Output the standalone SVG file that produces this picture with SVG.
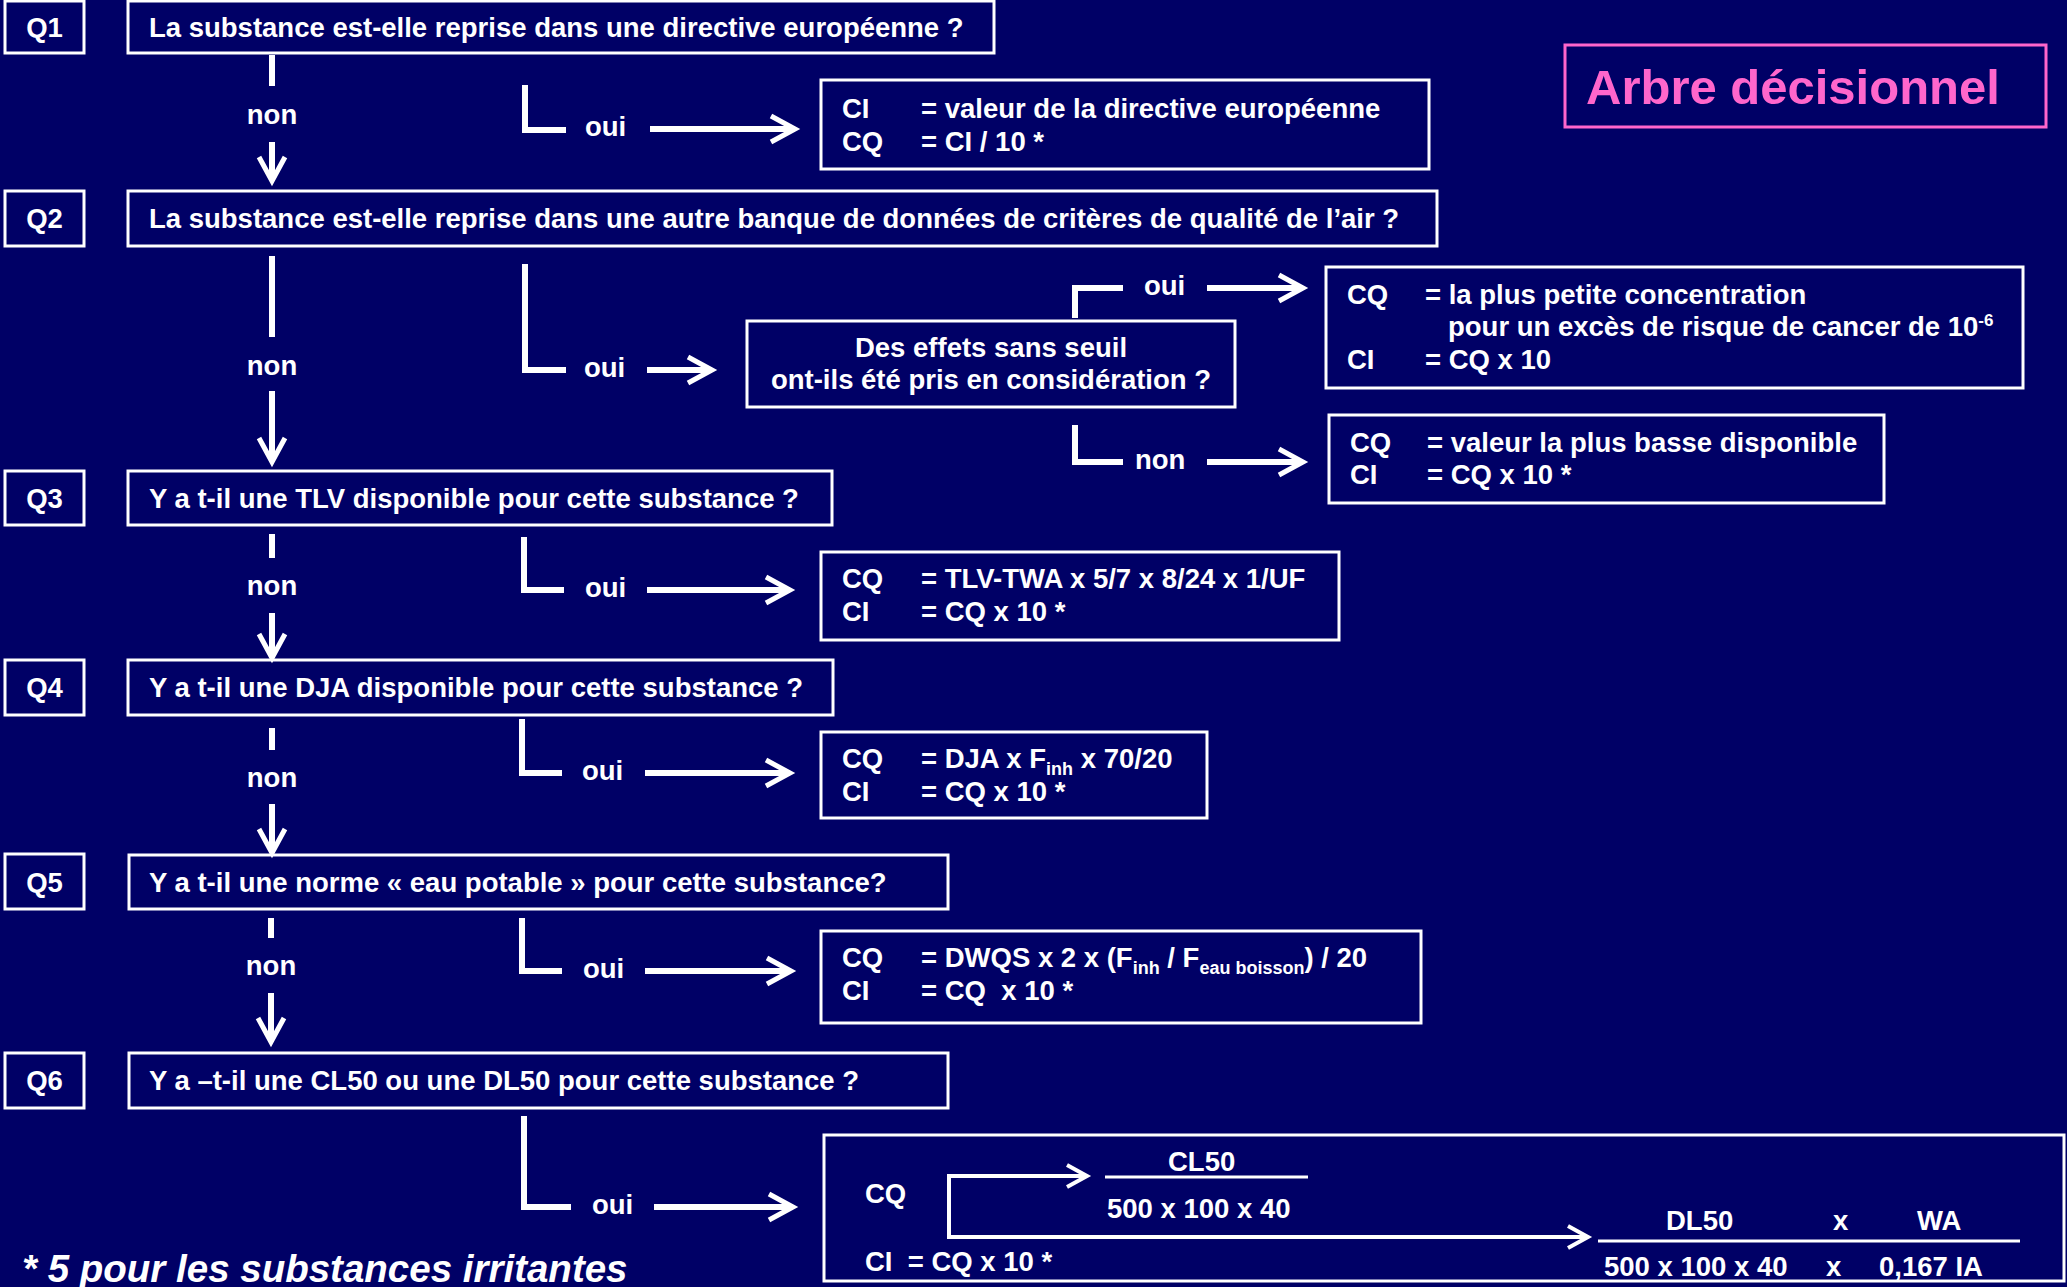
<svg xmlns="http://www.w3.org/2000/svg" width="2067" height="1287" viewBox="0 0 2067 1287">
<defs>
<style>
.bx{fill:none;stroke:#fff;stroke-width:3}
.t{font-family:"Liberation Sans",Arial,sans-serif;font-weight:bold;font-size:27.5px;fill:#fff;white-space:pre}
.m{text-anchor:middle}
.c{fill:none;stroke:#fff;stroke-width:6;stroke-linejoin:miter}
.a{marker-end:url(#chev)}
.c2{fill:none;stroke:#fff;stroke-width:4}
.a2{marker-end:url(#chev2)}
.fl{stroke:#fff;stroke-width:3}
</style>
<marker id="chev" markerUnits="userSpaceOnUse" viewBox="-30 -18 38 36" refX="0" refY="0" markerWidth="38" markerHeight="36" orient="auto">
<path d="M-24,-13 L0,0 L-24,13" fill="none" stroke="#fff" stroke-width="5"/>
</marker>
<marker id="chev2" markerUnits="userSpaceOnUse" viewBox="-26 -16 32 32" refX="0" refY="0" markerWidth="32" markerHeight="32" orient="auto">
<path d="M-20,-11 L0,0 L-20,11" fill="none" stroke="#fff" stroke-width="4"/>
</marker>
</defs>
<rect x="0" y="0" width="2067" height="1287" fill="#000066"/>

<g id="title">
<rect class="bx" x="1565" y="45" width="481" height="82" style="stroke:#FF66CC"/>
<text class="t" x="1586" y="104" style="font-size:49px;fill:#FF66CC">Arbre décisionnel</text>
</g>

<g id="q1-label"><rect class="bx" x="5" y="1" width="79" height="52"/><text class="t m" x="44.5" y="37">Q1</text></g>
<g id="q1"><rect class="bx" x="128" y="1" width="866" height="52"/><text class="t" x="149" y="37">La substance est-elle reprise dans une directive européenne ?</text></g>
<g id="r1"><rect class="bx" x="821" y="80" width="608" height="89"/><text class="t" x="842" y="118">CI</text><text class="t" x="921" y="118">= valeur de la directive européenne</text><text class="t" x="842" y="151">CQ</text><text class="t" x="921" y="151">= CI / 10 *</text></g>

<g id="q2-label"><rect class="bx" x="5" y="191" width="79" height="55"/><text class="t m" x="44.5" y="228">Q2</text></g>
<g id="q2"><rect class="bx" x="128" y="191" width="1309" height="55"/><text class="t" x="149" y="228">La substance est-elle reprise dans une autre banque de données de critères de qualité de l’air ?</text></g>
<g id="q2b"><rect class="bx" x="747" y="321" width="488" height="86"/><text class="t m" x="991" y="357">Des effets sans seuil</text><text class="t m" x="991" y="389">ont-ils été pris en considération ?</text></g>
<g id="r2a"><rect class="bx" x="1326" y="267" width="697" height="121"/><text class="t" x="1347" y="304">CQ</text><text class="t" x="1425" y="304">= la plus petite concentration</text><text class="t" x="1448" y="336">pour un excès de risque de cancer de 10<tspan dy="-10" style="font-size:17px">-6</tspan></text><text class="t" x="1347" y="369">CI</text><text class="t" x="1425" y="369">= CQ x 10</text></g>
<g id="r2b"><rect class="bx" x="1329" y="415" width="555" height="88"/><text class="t" x="1350" y="452">CQ</text><text class="t" x="1427" y="452">= valeur la plus basse disponible</text><text class="t" x="1350" y="484">CI</text><text class="t" x="1427" y="484">= CQ x 10 *</text></g>

<g id="q3-label"><rect class="bx" x="5" y="471" width="79" height="54"/><text class="t m" x="44.5" y="508">Q3</text></g>
<g id="q3"><rect class="bx" x="128" y="471" width="704" height="54"/><text class="t" x="149" y="508">Y a t-il une TLV disponible pour cette substance ?</text></g>
<g id="r3"><rect class="bx" x="821" y="552" width="518" height="88"/><text class="t" x="842" y="588">CQ</text><text class="t" x="921" y="588">= TLV-TWA x 5/7 x 8/24 x 1/UF</text><text class="t" x="842" y="621">CI</text><text class="t" x="921" y="621">= CQ x 10 *</text></g>

<g id="q4-label"><rect class="bx" x="5" y="660" width="79" height="55"/><text class="t m" x="44.5" y="697">Q4</text></g>
<g id="q4"><rect class="bx" x="128" y="660" width="705" height="55"/><text class="t" x="149" y="697">Y a t-il une DJA disponible pour cette substance ?</text></g>
<g id="r4"><rect class="bx" x="821" y="732" width="386" height="86"/><text class="t" x="842" y="768">CQ</text><text class="t" x="921" y="768">= DJA x F<tspan dy="7" style="font-size:18px">inh</tspan><tspan dy="-7"> x 70/20</tspan></text><text class="t" x="842" y="801">CI</text><text class="t" x="921" y="801">= CQ x 10 *</text></g>

<g id="q5-label"><rect class="bx" x="5" y="854" width="79" height="55"/><text class="t m" x="44.5" y="892">Q5</text></g>
<g id="q5"><rect class="bx" x="129" y="855" width="819" height="54"/><text class="t" x="149" y="892">Y a t-il une norme « eau potable » pour cette substance?</text></g>
<g id="r5"><rect class="bx" x="821" y="931" width="600" height="92"/><text class="t" x="842" y="967">CQ</text><text class="t" x="921" y="967">= DWQS x 2 x (F<tspan dy="7" style="font-size:18px">inh</tspan><tspan dy="-7"> / F</tspan><tspan dy="7" style="font-size:18px">eau boisson</tspan><tspan dy="-7">) / 20</tspan></text><text class="t" x="842" y="1000">CI</text><text class="t" x="921" y="1000">= CQ  x 10 *</text></g>

<g id="q6-label"><rect class="bx" x="5" y="1053" width="79" height="55"/><text class="t m" x="44.5" y="1090">Q6</text></g>
<g id="q6"><rect class="bx" x="129" y="1053" width="819" height="55"/><text class="t" x="149" y="1090">Y a –t-il une CL50 ou une DL50 pour cette substance ?</text></g>
<g id="r6">
<rect class="bx" x="824" y="1135" width="1240" height="146"/>
<text class="t" x="865" y="1203">CQ</text>
<text class="t" x="1168" y="1171">CL50</text>
<line class="fl" x1="1105" y1="1177" x2="1308" y2="1177"/>
<text class="t" x="1107" y="1218">500 x 100 x 40</text>
<text class="t" x="1666" y="1230">DL50</text><text class="t" x="1833" y="1230">x</text><text class="t" x="1917" y="1230">WA</text>
<line class="fl" x1="1598" y1="1241" x2="2020" y2="1241"/>
<text class="t" x="1604" y="1276">500 x 100 x 40</text><text class="t" x="1826" y="1276">x</text><text class="t" x="1879" y="1276">0,167 IA</text>
<text class="t" x="865" y="1271">CI  = CQ x 10 *</text>
<path class="c2 a2" d="M949,1237 L949,1176 L1087,1176"/>
<path class="c2 a2" d="M949,1176 L949,1237 L1588,1237"/>
</g>

<g id="footnote"><text class="t" x="22" y="1282" style="font-size:38.5px;font-style:italic">* 5 pour les substances irritantes</text></g>

<g id="connectors">
<line class="c" x1="272" y1="55" x2="272" y2="86"/>
<text class="t m" x="272" y="124">non</text>
<line class="c a" x1="272" y1="142" x2="272" y2="181"/>
<polyline class="c" points="525,85 525,130 566,130"/>
<text class="t" x="585" y="136">oui</text>
<line class="c a" x1="650" y1="129" x2="795" y2="129"/>
<line class="c" x1="272" y1="256" x2="272" y2="337"/>
<text class="t m" x="272" y="375">non</text>
<line class="c a" x1="272" y1="391" x2="272" y2="462"/>
<polyline class="c" points="525,264 525,370 566,370"/>
<text class="t" x="584" y="377">oui</text>
<line class="c a" x1="647" y1="370" x2="712" y2="370"/>
<polyline class="c" points="1075,318 1075,288 1123,288"/>
<text class="t" x="1144" y="295">oui</text>
<line class="c a" x1="1207" y1="288" x2="1303" y2="288"/>
<polyline class="c" points="1075,425 1075,462 1123,462"/>
<text class="t" x="1135" y="469">non</text>
<line class="c a" x1="1207" y1="462" x2="1303" y2="462"/>
<line class="c" x1="272" y1="534" x2="272" y2="558"/>
<text class="t m" x="272" y="595">non</text>
<line class="c a" x1="272" y1="613" x2="272" y2="658"/>
<polyline class="c" points="524,537 524,590 564,590"/>
<text class="t" x="585" y="597">oui</text>
<line class="c a" x1="647" y1="590" x2="790" y2="590"/>
<line class="c" x1="272" y1="728" x2="272" y2="750"/>
<text class="t m" x="272" y="787">non</text>
<line class="c a" x1="272" y1="804" x2="272" y2="853"/>
<polyline class="c" points="522,719 522,773 562,773"/>
<text class="t" x="582" y="780">oui</text>
<line class="c a" x1="645" y1="773" x2="790" y2="773"/>
<line class="c" x1="271" y1="918" x2="271" y2="938"/>
<text class="t m" x="271" y="975">non</text>
<line class="c a" x1="271" y1="993" x2="271" y2="1042"/>
<polyline class="c" points="522,918 522,971 562,971"/>
<text class="t" x="583" y="978">oui</text>
<line class="c a" x1="645" y1="971" x2="791" y2="971"/>
<polyline class="c" points="524,1116 524,1207 571,1207"/>
<text class="t" x="592" y="1214">oui</text>
<line class="c a" x1="654" y1="1207" x2="793" y2="1207"/>
</g>
</svg>
